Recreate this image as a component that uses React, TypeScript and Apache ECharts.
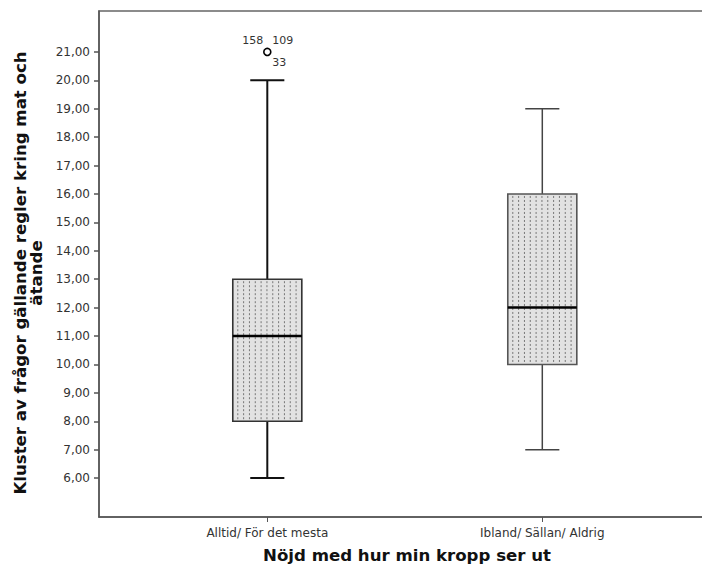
import React, { useEffect, useRef } from "react";
import * as echarts from "echarts";

// ---- Data ----
const categories = ["Alltid/ För det mesta", "Ibland/ Sällan/ Aldrig"];
const whiskerLow = [6, 7];
const quartile1 = [8, 10];
const medians = [11, 12];
const quartile3 = [13, 16];
const whiskerHigh = [20, 19];
const outlierCategory = [0];
const outlierValues = [21];
const outlierIds = ["158", "109", "33"];
const yTickValues = [6, 7, 8, 9, 10, 11, 12, 13, 14, 15, 16, 17, 18, 19, 20, 21];
const xTickValues = [0, 1];

const yTitle = "Kluster av frågor gällande regler kring mat och\nätande";
const xTitle = "Nöjd med hur min kropp ser ut";

// ---- Styles ----
const FONT = "DejaVu Sans";
const CHART_W = 712;
const BOX_HALF = 0.1255;
const CAP_HALF = 0.062;
const whiskerWidth = [2, 1.5];
const whiskerColor = ["#111", "#444"];
const boxStroke = ["#333", "#555"];
const labelOffsets: [number, number, string][] = [
  [-4, -11, "right"],
  [5, -11, "left"],
  [5, 11, "left"],
];

export default function App() {
  const ref = useRef<HTMLDivElement>(null);

  useEffect(() => {
    if (!ref.current) return;
    const chart = echarts.init(ref.current, null, { renderer: "svg" });

    const boxData = categories.map((_, i) => [
      i,
      whiskerLow[i],
      quartile1[i],
      medians[i],
      quartile3[i],
      whiskerHigh[i],
    ]);
    const outlierData = outlierValues.map((v, i) => [outlierCategory[i], v]);

    const renderBox = (params: any, api: any) => {
      const i = api.value(0);
      const lo = api.coord([i, api.value(1)]);
      const q1 = api.coord([i, api.value(2)]);
      const med = api.coord([i, api.value(3)]);
      const q3 = api.coord([i, api.value(4)]);
      const hi = api.coord([i, api.value(5)]);
      const left = api.coord([i - BOX_HALF, 10])[0];
      const right = api.coord([i + BOX_HALF, 10])[0];
      const capL = api.coord([i - CAP_HALF, 10])[0];
      const capR = api.coord([i + CAP_HALF, 10])[0];
      const cx = lo[0];
      const ww = whiskerWidth[i];
      const wc = whiskerColor[i];
      const children: any[] = [];
      children.push({
        type: "line",
        shape: { x1: cx, y1: hi[1], x2: cx, y2: q3[1] },
        style: { stroke: wc, lineWidth: ww },
      });
      children.push({
        type: "line",
        shape: { x1: cx, y1: q1[1], x2: cx, y2: lo[1] },
        style: { stroke: wc, lineWidth: ww },
      });
      children.push({
        type: "line",
        shape: { x1: capL, y1: hi[1], x2: capR, y2: hi[1] },
        style: { stroke: wc, lineWidth: ww },
      });
      children.push({
        type: "line",
        shape: { x1: capL, y1: lo[1], x2: capR, y2: lo[1] },
        style: { stroke: wc, lineWidth: ww },
      });
      children.push({
        type: "rect",
        shape: { x: left, y: q3[1], width: right - left, height: q1[1] - q3[1] },
        style: { fill: "#e2e2e2", stroke: "none" },
      });
      for (let x = left + 5; x < right - 2; x += 5.83) {
        children.push({
          type: "line",
          shape: { x1: x, y1: q3[1] + 2, x2: x, y2: q1[1] - 1 },
          style: { stroke: "#777", lineWidth: 1, lineDash: [2, 2] },
        });
      }
      children.push({
        type: "rect",
        shape: { x: left, y: q3[1], width: right - left, height: q1[1] - q3[1] },
        style: { fill: "none", stroke: boxStroke[i], lineWidth: 1.6 },
      });
      children.push({
        type: "line",
        shape: { x1: left, y1: med[1], x2: right, y2: med[1] },
        style: { stroke: "#000", lineWidth: 2.5 },
      });
      return { type: "group", children };
    };

    const renderOutlier = (params: any, api: any) => {
      const p = api.coord([api.value(0), api.value(1)]);
      const children: any[] = [
        {
          type: "circle",
          shape: { cx: p[0], cy: p[1], r: 3.5 },
          style: { fill: "#fff", stroke: "#000", lineWidth: 1.6 },
        },
      ];
      outlierIds.forEach((id, k) => {
        const o = labelOffsets[k];
        children.push({
          type: "text",
          x: p[0] + o[0],
          y: p[1] + o[1],
          style: {
            text: id,
            fill: "#333",
            font: `11px "${FONT}"`,
            textAlign: o[2],
            textVerticalAlign: "middle",
          },
        });
      });
      return { type: "group", children };
    };

    const xMin = -0.612;
    const xMax = (CHART_W - 267.3) / 275;

    chart.setOption({
      animation: false,
      backgroundColor: "#fff",
      grid: {
        left: 99,
        right: 0,
        top: 11,
        bottom: 53,
        show: true,
        borderColor: "#666",
        borderWidth: 1.5,
        backgroundColor: "transparent",
      },
      xAxis: {
        type: "value",
        min: xMin,
        max: xMax,
        position: "bottom",
        splitLine: { show: false },
        axisLine: { show: true, onZero: false, lineStyle: { color: "#555", width: 1.5 } },
        axisTick: {
          show: true,
          customValues: xTickValues,
          length: 5,
          lineStyle: { color: "#555", width: 1 },
        },
        axisLabel: {
          customValues: xTickValues,
          formatter: (v: number) => categories[Math.round(v)] ?? "",
          color: "#333",
          fontFamily: FONT,
          fontSize: 12,
          margin: 10,
        },
      },
      yAxis: {
        type: "value",
        min: 4.63,
        max: 22.44,
        position: "left",
        splitLine: { show: false },
        axisLine: { show: true, onZero: false, lineStyle: { color: "#555", width: 1.5 } },
        axisTick: {
          show: true,
          customValues: yTickValues,
          length: 5,
          lineStyle: { color: "#555", width: 1.5 },
        },
        axisLabel: {
          customValues: yTickValues,
          formatter: (v: number) => v.toFixed(2).replace(".", ","),
          color: "#333",
          fontFamily: FONT,
          fontSize: 12,
          margin: 9,
        },
      },
      graphic: [
        {
          type: "text",
          x: 28,
          y: 273,
          rotation: Math.PI / 2,
          style: {
            text: yTitle,
            fill: "#111",
            font: `bold 16.6px "${FONT}"`,
            textAlign: "center",
            textVerticalAlign: "middle",
            lineHeight: 16,
          },
        },
        {
          type: "text",
          x: 407,
          y: 555,
          style: {
            text: xTitle,
            fill: "#111",
            font: `bold 16.6px "${FONT}"`,
            textAlign: "center",
            textVerticalAlign: "middle",
          },
        },
      ],
      series: [
        {
          type: "custom",
          renderItem: renderBox,
          data: boxData,
          encode: { x: 0, y: [1, 2, 3, 4, 5] },
          silent: true,
        },
        {
          type: "custom",
          renderItem: renderOutlier,
          data: outlierData,
          encode: { x: 0, y: 1 },
          silent: true,
        },
      ],
    });

    return () => chart.dispose();
  }, []);

  return (
    <div style={{ position: "absolute", left: 0, top: 0, width: 702, height: 570, overflow: "hidden" }}>
      <div ref={ref} style={{ width: CHART_W, height: 570 }} />
    </div>
  );
}
